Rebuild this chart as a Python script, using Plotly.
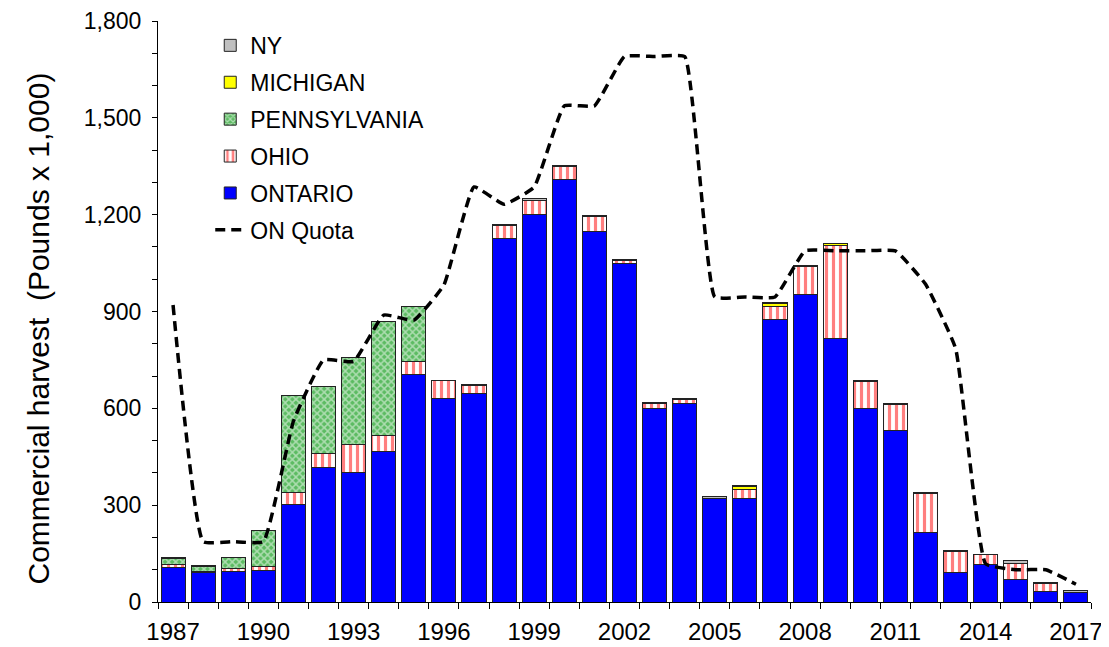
import plotly.graph_objects as go

years = list(range(1987, 2018))

ontario = [108, 92, 93, 98, 303, 418, 400, 465, 705, 632, 646, 1126, 1199, 1310, 1149, 1049,
           598, 615, 321, 321, 876, 953, 816, 598, 532, 215, 92, 115, 70, 34, 29]
ohio = [8, 3, 10, 12, 37, 43, 87, 51, 40, 53, 26, 40, 46, 40, 45, 8,
        16, 12, 1, 28, 38, 85, 288, 85, 80, 121, 65, 31, 50, 24, 0]
pennsylvania = [20, 16, 34, 112, 300, 207, 271, 352, 169, 0, 0, 0, 0, 0, 0, 0,
                0, 0, 0, 0, 0, 0, 0, 0, 0, 0, 0, 0, 0, 0, 0]
michigan = [0, 0, 0, 0, 0, 0, 0, 0, 0, 0, 0, 0, 0, 0, 0, 0,
            0, 0, 0, 10, 10, 0, 7, 0, 0, 0, 0, 0, 0, 0, 0]
ny = [1, 2, 1, 1, 0, 0, 0, 0, 0, 2, 3, 4, 4, 2, 2, 3,
      3, 4, 6, 3, 3, 3, 0, 3, 3, 3, 2, 2, 8, 2, 7]
quota = [920, 187, 187, 187, 560, 750, 745, 889, 873, 982, 1286, 1232, 1286, 1537, 1537, 1690,
         1690, 1690, 945, 945, 945, 1088, 1088, 1088, 1088, 985, 786, 118, 100, 100, 55]

outline = dict(color="#222222", width=1)
font = "Liberation Sans, Arial, sans-serif"

fig = go.Figure()

# stacked from the bottom up; legendrank puts NY at the top of the legend
fig.add_trace(go.Bar(x=years, y=ontario, name="ONTARIO", legendrank=5, legendgroup="on",
                     marker=dict(color="#0000FF", line=outline)))
fig.add_trace(go.Bar(x=years, y=ohio, name="OHIO", legendrank=4, legendgroup="oh",
                     marker=dict(color="white", line=outline,
                                 pattern=dict(shape="|", fgcolor="#FF0000", bgcolor="white",
                                              size=7, solidity=0.45))))
fig.add_trace(go.Bar(x=years, y=pennsylvania, name="PENNSYLVANIA", legendrank=3, legendgroup="pa",
                     marker=dict(color="#66c266", line=outline,
                                 pattern=dict(shape="x", fgcolor="white", bgcolor="#5cbb62",
                                              size=5, solidity=0.5))))
fig.add_trace(go.Bar(x=years, y=michigan, name="MICHIGAN", legendrank=2, legendgroup="mi",
                     marker=dict(color="#FFFF00", line=outline)))
fig.add_trace(go.Bar(x=years, y=ny, name="NY", legendrank=1, legendgroup="ny",
                     marker=dict(color="#C0C0C0", line=outline)))
fig.add_trace(go.Scatter(x=years, y=quota, name="ON Quota", legendrank=6, legendgroup="q",
                         mode="lines", line=dict(color="black", width=3.5, dash="10px,6px",
                                                 shape="spline", smoothing=0.35)))

# the page body adds an 8px offset, so the figure is 8px smaller and margins shifted
fig.update_layout(
    width=1101, height=639,
    margin=dict(l=150, r=18, t=13, b=45),
    barmode="stack", bargap=0.2,
    plot_bgcolor="white", paper_bgcolor="white",
    font=dict(family=font, size=22, color="black"),
    legend=dict(x=0.056, y=0.995, xanchor="left", yanchor="top",
                traceorder="grouped", tracegroupgap=4,
                font=dict(size=23), bgcolor="rgba(0,0,0,0)"),
    xaxis=dict(range=[1986.5, 2017.5], tickmode="linear", tick0=1987, dtick=3,
               ticks="", showline=True, linecolor="black", linewidth=1,
               showgrid=False, zeroline=False, tickfont=dict(size=24), automargin=False,
               ticklabelstandoff=8,
               minor=dict(tickmode="linear", tick0=1986.5, dtick=1, ticks="outside",
                          ticklen=6, tickcolor="black", showgrid=False)),
    yaxis=dict(range=[0, 1800], tickmode="linear", tick0=0, dtick=300, tickformat=",d",
               ticks="outside", ticklen=5, tickcolor="black", tickfont=dict(size=23),
               showline=True, linecolor="black", linewidth=1, automargin=False,
               showgrid=False, zeroline=False, ticklabelstandoff=6,
               minor=dict(dtick=100, ticks="outside", ticklen=5, tickcolor="black", showgrid=False)),
    annotations=[dict(text="Commercial harvest  (Pounds x 1,000)", textangle=-90,
                      xref="paper", yref="paper", x=-0.128, y=0.47,
                      xanchor="center", yanchor="middle", showarrow=False,
                      font=dict(size=30))],
)

fig.write_html("out.html")
